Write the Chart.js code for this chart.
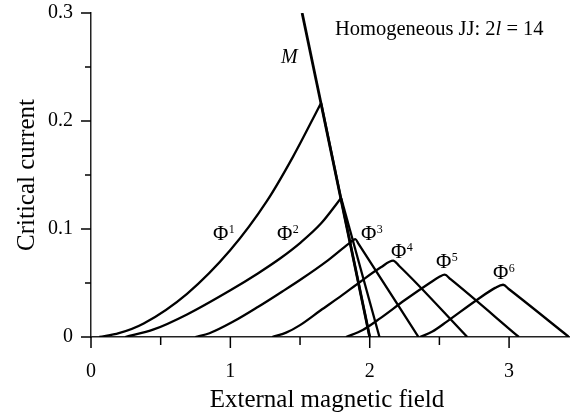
<!DOCTYPE html>
<html>
<head>
<meta charset="utf-8">
<script src="https://cdn.jsdelivr.net/npm/chart.js@4.4.0/dist/chart.umd.min.js"></script>
<style>
html,body{margin:0;padding:0;background:#fff;}
#wrap{width:570px;height:412px;position:relative;}
</style>
</head>
<body>
<div id="wrap"><canvas id="c" width="570" height="412"></canvas></div>
<script>
// ---- data ----
const xTickLabels = ['0', '1', '2', '3'];
const yTickLabels = ['0', '0.1', '0.2', '0.3'];
const seriesNames = ['Φ1', 'Φ2', 'Φ3', 'Φ4', 'Φ5', 'Φ6', 'M'];

const lineM = [[1.515, 0.30], [2.0, 0.0]];

const phi1Rise = [[0.06, 0], [0.2, 0.0035], [0.378, 0.0125], [0.689, 0.040], [1.0, 0.0805], [1.263, 0.126], [1.45, 0.167], [1.651, 0.2167]];
const phi1Fall = [[1.651, 0.2167], [2.0, 0]];

const phi2Rise = [[0.246, 0], [0.45, 0.007], [0.689, 0.0209], [1.0, 0.0433], [1.2, 0.0591], [1.359, 0.0729], [1.502, 0.0872], [1.65, 0.105], [1.795, 0.1287]];
const phi2Fall = [[1.795, 0.1287], [2.07, 0]];

const phi3 = [[0.749, 0], [0.85, 0.0035], [1.024, 0.0145], [1.2, 0.028], [1.359, 0.041], [1.502, 0.053], [1.7, 0.071], [1.85, 0.0865], [1.897, 0.0907], [1.92, 0.0862], [2.35, 0]];
const phi4 = [[1.30, 0], [1.40, 0.004], [1.50, 0.011], [1.646, 0.0245], [1.80, 0.0385], [1.933, 0.0512], [2.08, 0.0645], [2.168, 0.0707], [2.21, 0.066], [2.70, 0]];
const phi5 = [[1.83, 0], [1.95, 0.0065], [2.077, 0.0175], [2.25, 0.034], [2.436, 0.0505], [2.50, 0.0557], [2.538, 0.0577], [2.58, 0.0535], [3.07, 0]];
const phi6 = [[2.36, 0], [2.45, 0.005], [2.556, 0.0145], [2.771, 0.0345], [2.90, 0.0455], [2.957, 0.0484], [3.0, 0.0442], [3.43, 0]];

// ---- chart ----
const toXY = arr => arr.map(p => ({x: p[0], y: p[1]}));
function ds(label, arr, width, smooth) {
  return {
    label: label,
    data: toXY(arr),
    borderColor: '#000',
    borderWidth: width,
    pointRadius: 0,
    fill: false,
    tension: smooth ? 0.4 : 0,
    cubicInterpolationMode: smooth ? 'monotone' : 'default',
    borderCapStyle: 'butt',
    borderJoinStyle: 'round'
  };
}

const serif = '"Liberation Serif", "Times New Roman", "DejaVu Serif", serif';

const annot = {
  id: 'annot',
  afterDraw(chart) {
    const ctx = chart.ctx;
    const xs = chart.scales.x, ys = chart.scales.y;
    ctx.save();
    ctx.strokeStyle = '#000';
    ctx.lineWidth = 1.5;
    // tick marks
    xs.ticks.forEach(t => {
      const px = xs.getPixelForValue(t.value);
      const major = Math.abs(t.value - Math.round(t.value)) < 1e-6;
      const len = major ? 11 : 8;
      ctx.beginPath();
      ctx.moveTo(px, xs.top);
      ctx.lineTo(px, xs.top + len);
      ctx.stroke();
    });
    ys.ticks.forEach(t => {
      const py = ys.getPixelForValue(t.value);
      const major = Math.abs(t.value * 10 - Math.round(t.value * 10)) < 1e-6;
      const len = major ? 10 : 6;
      ctx.beginPath();
      ctx.moveTo(chart.chartArea.left, py);
      ctx.lineTo(chart.chartArea.left - len, py);
      ctx.stroke();
    });

    ctx.fillStyle = '#000';
    ctx.textBaseline = 'alphabetic';

    // axis titles
    ctx.font = '25px ' + serif;
    ctx.textAlign = 'center';
    ctx.fillText('External magnetic field', 327, 407);
    ctx.save();
    ctx.translate(34, 175);
    ctx.rotate(-Math.PI / 2);
    ctx.fillText('Critical current', 0, 0);
    ctx.restore();

    // header
    ctx.textAlign = 'left';
    let x = 335;
    const yb = 35;
    ctx.font = '20.5px ' + serif;
    const s1 = 'Homogeneous JJ: 2';
    ctx.fillText(s1, x, yb); x += ctx.measureText(s1).width;
    ctx.font = 'italic 20.5px ' + serif;
    ctx.fillText('l', x, yb); x += ctx.measureText('l').width;
    ctx.font = '20.5px ' + serif;
    ctx.fillText(' = 14', x, yb);

    // M label
    ctx.font = 'italic 20px ' + serif;
    ctx.fillText('M', 281, 63);

    // Phi labels
    const labs = [
      {n: '1', x: 213, y: 240},
      {n: '2', x: 277, y: 240},
      {n: '3', x: 361, y: 240},
      {n: '4', x: 391, y: 258},
      {n: '5', x: 436, y: 268},
      {n: '6', x: 493, y: 279}
    ];
    labs.forEach(l => {
      ctx.font = '21px ' + serif;
      ctx.fillText('Φ', l.x, l.y);
      const w = ctx.measureText('Φ').width;
      ctx.font = '12px ' + serif;
      ctx.fillText(l.n, l.x + w + 0.5, l.y - 7);
    });
    ctx.restore();
  }
};

new Chart(document.getElementById('c'), {
  type: 'line',
  data: {
    datasets: [
      ds(seriesNames[6], lineM, 2.8, false),
      ds(seriesNames[0], phi1Rise, 2.3, true),
      ds(seriesNames[0], phi1Fall, 2.3, false),
      ds(seriesNames[1], phi2Rise, 2.3, true),
      ds(seriesNames[1], phi2Fall, 2.3, false),
      ds(seriesNames[2], phi3, 2.3, true),
      ds(seriesNames[3], phi4, 2.3, true),
      ds(seriesNames[4], phi5, 2.3, true),
      ds(seriesNames[5], phi6, 2.3, true)
    ]
  },
  options: {
    responsive: false,
    animation: false,
    devicePixelRatio: 1,
    layout: {padding: {left: 0, top: 13, right: 1, bottom: 0}},
    plugins: {legend: {display: false}, tooltip: {enabled: false}},
    scales: {
      x: {
        type: 'linear',
        min: 0, max: 3.43,
        afterFit: s => { s.height = 75; s.paddingLeft = 0; s.paddingRight = 0; },
        border: {display: true, color: '#222', width: 1.5},
        grid: {display: true, drawOnChartArea: false, color: 'transparent', tickColor: 'transparent', tickLength: 11},
        ticks: {
          stepSize: 0.5,
          includeBounds: false,
          padding: 12,
          maxRotation: 0,
          autoSkip: false,
          color: '#000',
          font: {family: serif, size: 20},
          callback: v => {
            const i = Math.round(v);
            return Math.abs(v - i) < 1e-6 && xTickLabels[i] !== undefined ? xTickLabels[i] : '';
          }
        }
      },
      y: {
        type: 'linear',
        min: 0, max: 0.3,
        afterFit: s => { s.width = 91; s.paddingTop = 0; s.paddingBottom = 0; },
        border: {display: true, color: '#222', width: 1.5},
        grid: {display: true, drawOnChartArea: false, color: 'transparent', tickColor: 'transparent', tickLength: 10},
        ticks: {
          stepSize: 0.05,
          padding: 8,
          autoSkip: false,
          color: '#000',
          font: {family: serif, size: 20},
          callback: v => {
            const i = Math.round(v * 10);
            return Math.abs(v * 10 - i) < 1e-6 && yTickLabels[i] !== undefined ? yTickLabels[i] : '';
          }
        }
      }
    }
  },
  plugins: [annot]
});
</script>
</body>
</html>
